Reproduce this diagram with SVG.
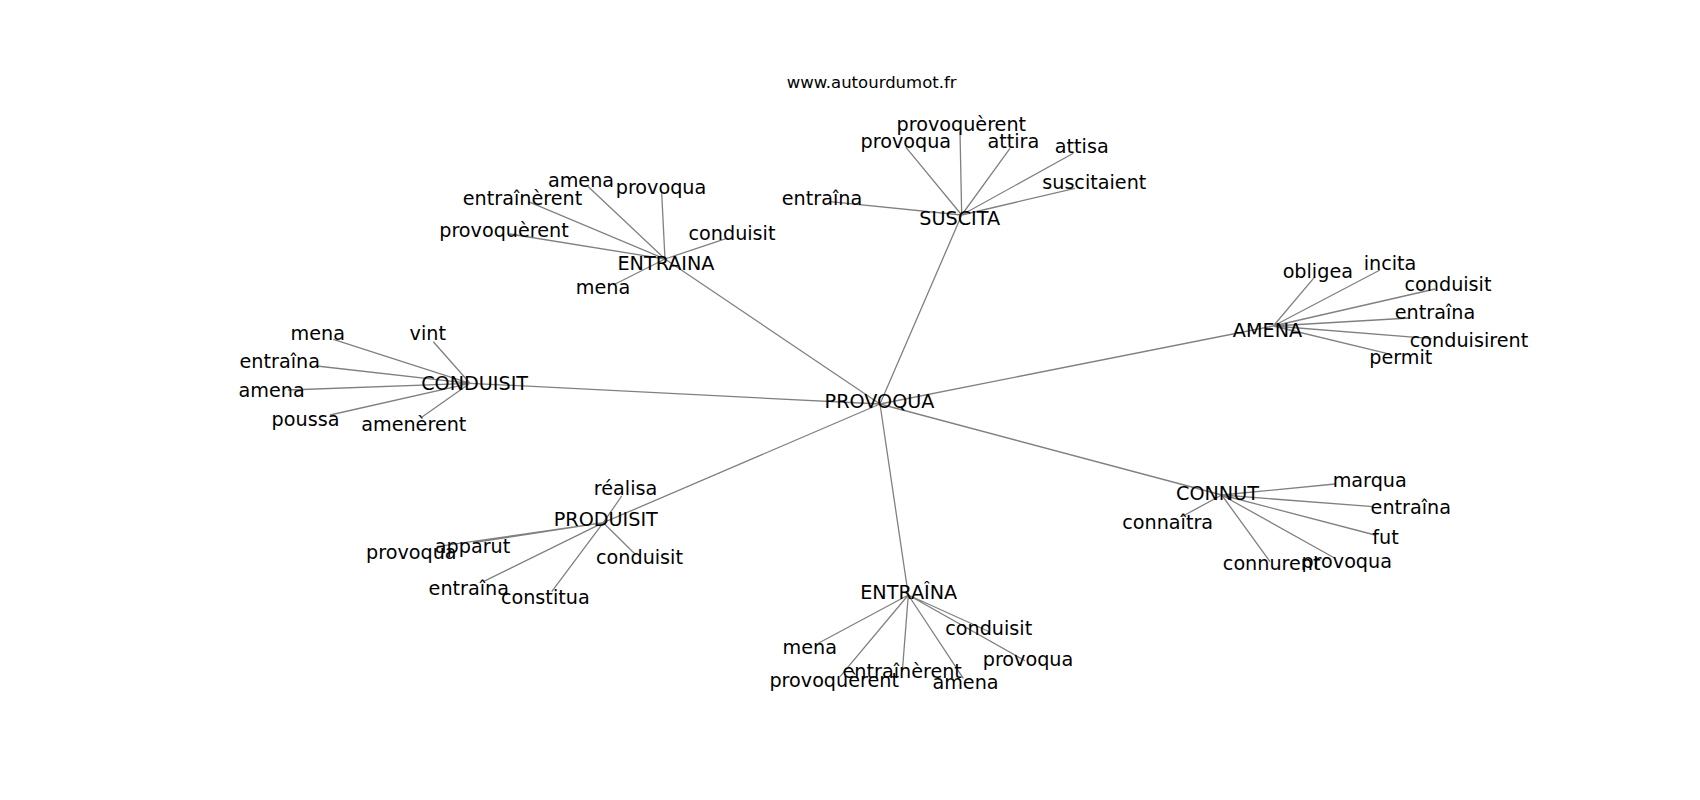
<svg xmlns="http://www.w3.org/2000/svg" width="1700" height="800" viewBox="0 0 1700 800">
<style>
.e{stroke:#808080;stroke-width:1.3;fill:none}
.t{font-family:"DejaVu Sans",sans-serif;font-size:19.2px;fill:#000;text-anchor:middle}
.h{font-family:"DejaVu Sans",sans-serif;font-size:16.5px;fill:#000;text-anchor:middle}
</style>
<rect width="1700" height="800" fill="#fff"/>
<g id="connectors" class="e">
<path d="M880,404L961.7,215M880,404L665,259M880,404L470,383.3M880,404L603.3,522.7M880,404L908.3,595M880,404L1221.7,495M880,404L1273.3,326"/>
<path d="M961.7,215L960,131.7M961.7,215L906,147.3M961.7,215L1010,148.3M961.7,215L1073.3,153.3M961.7,215L1075,188.3M961.7,215L830,201.7"/>
<path d="M665,259L588.3,186.7M665,259L661.7,193.3M665,259L528.3,201.7M665,259L510,234M665,259L726.7,238.3M665,259L613.3,285"/>
<path d="M1273.3,326L1315,276.7M1273.3,326L1380,270M1273.3,326L1435,289M1273.3,326L1410,318M1273.3,326L1431.7,338.7M1273.3,326L1386.7,353.3"/>
<path d="M470,383.3L333.3,339.3M470,383.3L433.3,341.7M470,383.3L316.7,366M470,383.3L288,390M470,383.3L330,415M470,383.3L421.7,417.3"/>
<path d="M603.3,522.7L621.7,496M603.3,522.7L473.3,542.7M603.3,522.7L436.7,546.7M603.3,522.7L635,554M603.3,522.7L483.3,581.7M603.3,522.7L551.7,591.7"/>
<path d="M908.3,595L990,632M908.3,595L818.3,643.3M908.3,595L840,676.7M908.3,595L902.3,671.7M908.3,595L963.3,678.3M908.3,595L1025,660.7"/>
<path d="M1221.7,495L1181.7,516.7M1221.7,495L1335,484M1221.7,495L1373.3,506.7M1221.7,495L1375,535M1221.7,495L1270,561.7M1221.7,495L1335,558.3"/>
</g>
<text class="h" x="871.7" y="88">www.autourdumot.fr</text>
<g id="n-provoqua"><text class="t" x="879.5" y="407.7">PROVOQUA</text></g>
<g id="n-suscita"><text class="t" x="959.7" y="225">SUSCITA</text></g>
<g id="s-provoquerent"><text class="t" x="961.3" y="131">provoquèrent</text></g>
<g id="s-provoqua"><text class="t" x="905.8" y="148.3">provoqua</text></g>
<g id="s-attira"><text class="t" x="1013.3" y="148.3">attira</text></g>
<g id="s-attisa"><text class="t" x="1081.7" y="152.7">attisa</text></g>
<g id="s-suscitaient"><text class="t" x="1094.3" y="189">suscitaient</text></g>
<g id="s-entraina"><text class="t" x="822" y="205">entraîna</text></g>
<g id="n-entraina-top"><text class="t" x="666" y="270">ENTRAINA</text></g>
<g id="et-amena"><text class="t" x="581" y="187">amena</text></g>
<g id="et-provoqua"><text class="t" x="661" y="194">provoqua</text></g>
<g id="et-entrainerent"><text class="t" x="522.5" y="205">entraînèrent</text></g>
<g id="et-provoquerent"><text class="t" x="504" y="236.7">provoquèrent</text></g>
<g id="et-conduisit"><text class="t" x="732" y="240">conduisit</text></g>
<g id="et-mena"><text class="t" x="603" y="294">mena</text></g>
<g id="n-amena"><text class="t" x="1267.5" y="337.3">AMENA</text></g>
<g id="a-obligea"><text class="t" x="1317.8" y="278.3">obligea</text></g>
<g id="a-incita"><text class="t" x="1390" y="270">incita</text></g>
<g id="a-conduisit"><text class="t" x="1448" y="290.7">conduisit</text></g>
<g id="a-entraina"><text class="t" x="1435" y="319.3">entraîna</text></g>
<g id="a-conduisirent"><text class="t" x="1469" y="346.7">conduisirent</text></g>
<g id="a-permit"><text class="t" x="1400.8" y="364">permit</text></g>
<g id="n-conduisit"><text class="t" x="474.6" y="390">CONDUISIT</text></g>
<g id="c-mena"><text class="t" x="317.8" y="340">mena</text></g>
<g id="c-vint"><text class="t" x="427.8" y="340">vint</text></g>
<g id="c-entraina"><text class="t" x="279.7" y="367.7">entraîna</text></g>
<g id="c-amena"><text class="t" x="271.7" y="396.7">amena</text></g>
<g id="c-poussa"><text class="t" x="305.5" y="426">poussa</text></g>
<g id="c-amenerent"><text class="t" x="413.8" y="431">amenèrent</text></g>
<g id="n-produisit"><text class="t" x="605.8" y="526">PRODUISIT</text></g>
<g id="p-realisa"><text class="t" x="625.5" y="495">réalisa</text></g>
<g id="p-apparut"><text class="t" x="472.5" y="552.7">apparut</text></g>
<g id="p-provoqua"><text class="t" x="411.3" y="559.3">provoqua</text></g>
<g id="p-conduisit"><text class="t" x="639.5" y="564">conduisit</text></g>
<g id="p-entraina"><text class="t" x="468.8" y="595">entraîna</text></g>
<g id="p-constitua"><text class="t" x="545.3" y="604">constitua</text></g>
<g id="n-entraina-bottom"><text class="t" x="908.7" y="599.3">ENTRAÎNA</text></g>
<g id="eb-conduisit"><text class="t" x="988.7" y="635">conduisit</text></g>
<g id="eb-mena"><text class="t" x="809.7" y="654">mena</text></g>
<g id="eb-provoquerent"><text class="t" x="834.2" y="686.7">provoquèrent</text></g>
<g id="eb-entrainerent"><text class="t" x="902.2" y="678.3">entraînèrent</text></g>
<g id="eb-amena"><text class="t" x="965.5" y="689.3">amena</text></g>
<g id="eb-provoqua"><text class="t" x="1028" y="666">provoqua</text></g>
<g id="n-connut"><text class="t" x="1217.5" y="500">CONNUT</text></g>
<g id="k-connaitra"><text class="t" x="1167.7" y="529.3">connaîtra</text></g>
<g id="k-marqua"><text class="t" x="1369.7" y="486.7">marqua</text></g>
<g id="k-entraina"><text class="t" x="1410.8" y="514">entraîna</text></g>
<g id="k-fut"><text class="t" x="1385.5" y="544">fut</text></g>
<g id="k-connurent"><text class="t" x="1271.7" y="570">connurent</text></g>
<g id="k-provoqua"><text class="t" x="1346.7" y="568.3">provoqua</text></g>
</svg>
